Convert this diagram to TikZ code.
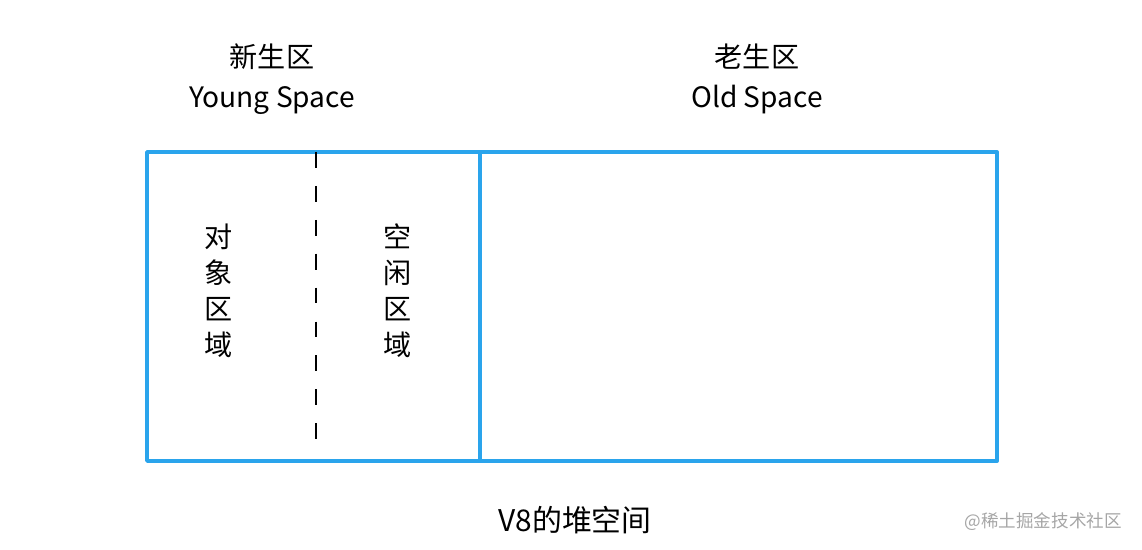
\documentclass[tikz,border=0pt]{standalone}
\usepackage{fontspec}
\setmainfont{Noto Sans CJK SC}
\usetikzlibrary{positioning}

\definecolor{heapblue}{RGB}{42,164,236}

\begin{document}
\begin{tikzpicture}[x=0.02cm,y=-0.02cm,
	region/.style={draw=heapblue,line width=2.2pt,line join=round,anchor=north west,inner sep=0pt,outer sep=0pt,minimum height=6.18cm},
	split/.style={line width=1.2pt,dash pattern=on 9pt off 10.3pt},
	title/.style={font=\fontsize{16}{23}\selectfont,align=center},
	column/.style={font=\fontsize{16}{20.5}\selectfont,align=center},
	caption/.style={font=\fontsize{17}{20}\selectfont},
	watermark/.style={font=\fontsize{10}{12}\selectfont,text=black!35}]
	\useasboundingbox (0,0) rectangle (1142,550);
	% heap regions
	\node[region,minimum width=6.66cm] (young) at (147,152) {};
	\node[region,minimum width=10.34cm] (old) at (young.north east) {};
	\coordinate (splittop) at (316,152);
	\coordinate (splitend) at (316,444);
	\draw[split] (splittop) -- (splitend);
	% labels
	\node[title] (youngname) at (272,79) {新生区\\Young Space};
	\node[title] (oldname) at (757,79) {老生区\\Old Space};
	\node[column] (objects) at (219,291) {对\\象\\区\\域};
	\node[column] (free) at (398,291) {空\\闲\\区\\域};
	\node[caption] (heapname) at (575,520) {V8的堆空间};
	\node[watermark,anchor=east] (source) at (1128,522) {@稀土掘金技术社区};
\end{tikzpicture}
\end{document}
